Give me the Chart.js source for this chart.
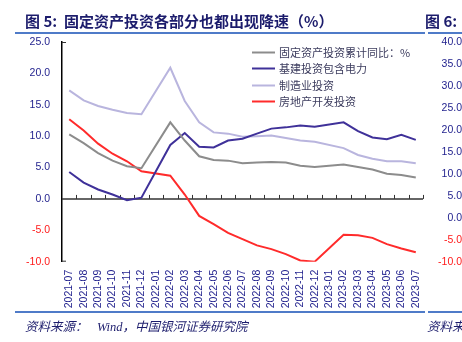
<!DOCTYPE html>
<html>
<head>
<meta charset="utf-8">
<script src="https://cdn.jsdelivr.net/npm/chart.js@4.4.1/dist/chart.umd.min.js"></script>
<style>
  html, body { margin: 0; padding: 0; background: #fff; }
  #wrap { position: relative; width: 462px; height: 342px; overflow: hidden; }
  #wrap canvas { position: absolute; left: 0; top: 0; }
  .txt { position: absolute; white-space: pre; color: #1c1c6c; }
  .rule { position: absolute; height: 2px; background: #4f7bc8; }
  .title { top: 11px; font: bold 15px/20px "Noto Sans CJK SC", sans-serif; }
  .note { top: 318px; font: italic 12.5px/18px "Liberation Serif", "Noto Sans CJK SC", serif; }
</style>
</head>
<body>
<div id="wrap">
  <canvas id="mainChart" width="462" height="342"></canvas>
  <div class="txt title" style="left:25px">图 5:  固定资产投资各部分也都出现降速（%）</div>
  <div class="txt title" style="left:425px">图 6:</div>
  <div class="rule" style="left:15px;width:410px;top:32px"></div>
  <div class="rule" style="left:428px;width:34px;top:32px"></div>
  <div class="rule" style="left:15px;width:410px;top:311px"></div>
  <div class="rule" style="left:428px;width:34px;top:311px"></div>
  <div class="txt note" style="left:25px">资料来源：   Wind，中国银河证券研究院</div>
  <div class="txt note" style="left:427px">资料来源</div>
</div>
<script>
const months = [
  '2021-07', '2021-08', '2021-09', '2021-10', '2021-11', '2021-12',
  '2022-01', '2022-02', '2022-03', '2022-04', '2022-05', '2022-06',
  '2022-07', '2022-08', '2022-09', '2022-10', '2022-11', '2022-12',
  '2023-01', '2023-02', '2023-03', '2023-04', '2023-05', '2023-06', '2023-07',
];

// cumulative yoy, %; no January release, so those months are gaps
const faiTotal = [10.3, 8.9, 7.3, 6.1, 5.2, 4.9, null, 12.2, 9.3, 6.8, 6.2, 6.1, 5.7, 5.8, 5.9, 5.8, 5.3, 5.1, null, 5.5, 5.1, 4.7, 4.0, 3.8, 3.4];
const infraInclPower = [4.3, 2.6, 1.5, 0.7, -0.2, 0.2, null, 8.6, 10.5, 8.3, 8.2, 9.3, 9.6, 10.4, 11.2, 11.4, 11.7, 11.5, null, 12.2, 10.8, 9.8, 9.5, 10.2, 9.4];
const manufacturing = [17.3, 15.7, 14.8, 14.2, 13.7, 13.5, null, 20.9, 15.6, 12.2, 10.6, 10.4, 9.9, 10.0, 10.1, 9.7, 9.3, 9.1, null, 8.1, 7.0, 6.4, 6.0, 6.0, 5.7];
const realEstate = [12.7, 10.9, 8.8, 7.2, 6.0, 4.4, null, 3.7, 0.7, -2.7, -4.0, -5.4, -6.4, -7.4, -8.0, -8.8, -9.8, -10.0, null, -5.7, -5.8, -6.2, -7.2, -7.9, -8.5];

const seriesNames = ['固定资产投资累计同比：%', '基建投资包含电力', '制造业投资', '房地产开发投资'];
const seriesColors = ['#8c8c8c', '#3f3199', '#b9b5de', '#ff2b2b'];

const leftTicks = { min: -10, max: 25, step: 5 };
const rightTicks = { min: -10, max: 40, step: 5 };

const tickBlue = '#1e1e8c';
const tickRed = '#ff1a1a';
const tickFont = { family: '"Liberation Sans", Arial, sans-serif', size: 10.5 };

// zero line with ticks between categories, plus stubs on the left axis ends
const axisExtras = {
  id: 'axisExtras',
  beforeDatasetsDraw(chart) {
    const { ctx, chartArea, scales } = chart;
    const y0 = scales.y.getPixelForValue(0);
    const n = months.length;
    const step = (chartArea.right - chartArea.left) / n;
    ctx.save();
    ctx.strokeStyle = '#333';
    ctx.lineWidth = 1.5;
    ctx.beginPath();
    ctx.moveTo(chartArea.left, y0);
    ctx.lineTo(chartArea.right, y0);
    ctx.stroke();
    ctx.lineWidth = 1;
    ctx.beginPath();
    for (let i = 1; i <= n; i++) {
      const x = Math.round(chartArea.left + i * step) + 0.5;
      ctx.moveTo(x, y0);
      ctx.lineTo(x, y0 - 4);
    }
    ctx.moveTo(chartArea.left, chartArea.top + 0.5);
    ctx.lineTo(chartArea.left + 4, chartArea.top + 0.5);
    ctx.moveTo(chartArea.left, chartArea.bottom - 0.5);
    ctx.lineTo(chartArea.left + 4, chartArea.bottom - 0.5);
    ctx.stroke();
    ctx.restore();
  },
};

// legend sits inside the plot, top right
const innerLegend = {
  id: 'innerLegend',
  afterDraw(chart) {
    const { ctx } = chart;
    ctx.save();
    ctx.font = '11px "Noto Sans CJK SC", sans-serif';
    ctx.textBaseline = 'middle';
    chart.data.datasets.forEach((ds, i) => {
      const y = Math.round(52 + i * 16.4) + 0.5;
      ctx.strokeStyle = ds.borderColor;
      ctx.lineWidth = 2;
      ctx.beginPath();
      ctx.moveTo(252, y);
      ctx.lineTo(275, y);
      ctx.stroke();
      ctx.fillStyle = '#3c3c5e';
      ctx.fillText(ds.label, 279, y);
    });
    ctx.restore();
  },
};

const seriesData = [faiTotal, infraInclPower, manufacturing, realEstate];

new Chart(document.getElementById('mainChart'), {
  type: 'line',
  data: {
    labels: months,
    datasets: seriesData.map((d, i) => ({
      label: seriesNames[i],
      data: d,
      borderColor: seriesColors[i],
      borderWidth: 2,
      pointRadius: 0,
      tension: 0,
      spanGaps: true,
      yAxisID: 'y',
    })),
  },
  options: {
    responsive: false,
    animation: false,
    layout: { padding: { top: 42, bottom: 30, left: 0, right: 0 } },
    plugins: { legend: { display: false }, tooltip: { enabled: false } },
    scales: {
      x: {
        offset: true,
        grid: { display: false, drawTicks: false },
        border: { display: false },
        ticks: {
          autoSkip: false,
          minRotation: 90,
          maxRotation: 90,
          padding: 8,
          color: tickBlue,
          font: tickFont,
        },
        afterFit: s => { s.height = 50.3; },
      },
      y: {
        position: 'left',
        min: leftTicks.min,
        max: leftTicks.max,
        grid: { display: false, drawTicks: false },
        border: { display: true, color: '#000', width: 1.5 },
        ticks: {
          stepSize: leftTicks.step,
          padding: 12,
          color: c => (c.tick.value < 0 ? tickRed : tickBlue),
          font: tickFont,
          callback: v => v.toFixed(1),
        },
        afterFit: s => { s.width = 62; },
      },
      y2: {
        position: 'right',
        min: rightTicks.min,
        max: rightTicks.max,
        grid: { display: false, drawTicks: false },
        border: { display: false },
        ticks: {
          stepSize: rightTicks.step,
          crossAlign: 'far',
          color: c => (c.tick.value < 0 ? tickRed : tickBlue),
          font: tickFont,
          callback: v => v.toFixed(1),
        },
        afterFit: s => { s.width = 39; },
      },
    },
  },
  plugins: [axisExtras, innerLegend],
});
</script>
</body>
</html>
